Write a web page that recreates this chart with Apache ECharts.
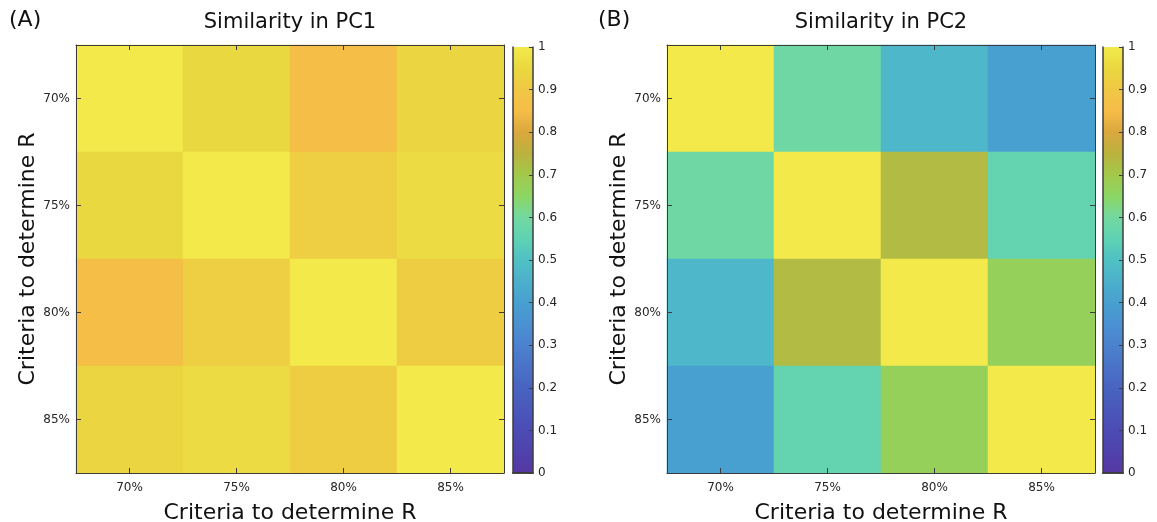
<!DOCTYPE html>
<html>
<head>
<meta charset="utf-8">
<script src="https://cdn.jsdelivr.net/npm/echarts@6/dist/echarts.min.js"></script>
<style>html,body{margin:0;padding:0;background:#fff;}#c{width:1157px;height:522px;}</style>
</head>
<body>
<div id="c"></div>
<script>
// ---- data ----
const categories = ['70%', '75%', '80%', '85%'];
const pc1 = [
  [1.00, 0.95, 0.86, 0.94],
  [0.95, 1.00, 0.92, 0.96],
  [0.86, 0.92, 1.00, 0.915],
  [0.94, 0.96, 0.915, 1.00]
];
const pc2 = [
  [1.00, 0.59, 0.47, 0.40],
  [0.59, 1.00, 0.73, 0.56],
  [0.47, 0.73, 1.00, 0.67],
  [0.40, 0.56, 0.67, 1.00]
];
const panelLabels = ['(A)', '(B)'];
const titles = ['Similarity in PC1', 'Similarity in PC2'];
const axisName = 'Criteria to determine R';
const cbMin = 0, cbMax = 1, cbStep = 0.1;

// lightened parula-like ramp, from 0 to 1 in steps of 0.05
const ramp = [
  'rgb(86,56,162)', 'rgb(80,66,172)', 'rgb(76,76,180)', 'rgb(74,88,186)', 'rgb(72,100,192)',
  'rgb(74,115,200)', 'rgb(76,130,206)', 'rgb(74,145,210)', 'rgb(72,160,208)', 'rgb(76,176,204)',
  'rgb(80,193,196)', 'rgb(95,210,180)', 'rgb(115,216,160)', 'rgb(140,214,100)', 'rgb(162,200,75)',
  'rgb(188,178,62)', 'rgb(218,168,62)', 'rgb(246,188,72)', 'rgb(240,200,68)', 'rgb(234,216,64)',
  'rgb(243,233,75)'
];

function toCells(m) {
  const out = [];
  m.forEach((row, r) => row.forEach((v, c) => out.push([c, r, v])));
  return out;
}

const FONT = 'DejaVu Sans';
const AX = '#3c3c3c';
const plots = [{left: 76}, {left: 667}];
const cbars = [{left: 513}, {left: 1103}];
const TOP = 45, SIZE = 428;

const grid = [], xAxis = [], yAxis = [], visualMap = [], series = [], graphic = [];

plots.forEach((p, i) => {
  grid.push({left: p.left, top: TOP, width: SIZE, height: SIZE, containLabel: false, outerBoundsMode: 'none'});
  const g = grid.length - 1;
  const tick = {show: true, inside: true, length: 5, alignWithLabel: true, lineStyle: {color: AX}};
  xAxis.push({type: 'category', gridIndex: g, data: categories, position: 'bottom', z: 5,
    axisLine: {show: true, lineStyle: {color: AX, width: 1}}, axisTick: tick,
    axisLabel: {fontFamily: FONT, fontSize: 12, color: '#262626', margin: 9},
    name: axisName, nameLocation: 'middle', nameGap: 29,
    nameTextStyle: {fontFamily: FONT, fontSize: 22, color: '#111'}, splitLine: {show: false}});
  xAxis.push({type: 'category', gridIndex: g, data: categories, position: 'top', z: 5,
    axisLine: {show: true, lineStyle: {color: AX, width: 1}}, axisTick: tick,
    axisLabel: {show: false}, splitLine: {show: false}});
  yAxis.push({type: 'category', gridIndex: g, data: categories, inverse: true, position: 'left', z: 5,
    axisLine: {show: true, lineStyle: {color: AX, width: 1}}, axisTick: tick,
    axisLabel: {fontFamily: FONT, fontSize: 12, color: '#262626', margin: 6},
    name: axisName, nameLocation: 'middle', nameGap: 24, nameRotate: 90,
    nameTextStyle: {fontFamily: FONT, fontSize: 22, color: '#111'}, splitLine: {show: false}});
  yAxis.push({type: 'category', gridIndex: g, data: categories, inverse: true, position: 'right', z: 5,
    axisLine: {show: true, lineStyle: {color: AX, width: 1}}, axisTick: tick,
    axisLabel: {show: false}, splitLine: {show: false}});
  series.push({type: 'heatmap', xAxisIndex: xAxis.length - 2, yAxisIndex: yAxis.length - 2,
    data: toCells(i === 0 ? pc1 : pc2), itemStyle: {borderWidth: 0}, emphasis: {disabled: true}, progressive: 0});
  graphic.push({type: 'text', x: p.left + SIZE / 2, y: 12,
    style: {text: titles[i], fontFamily: FONT, fontSize: 21, fill: '#111', textAlign: 'center', textVerticalAlign: 'top'}});
  graphic.push({type: 'text', x: i === 0 ? 9 : 598, y: 9,
    style: {text: panelLabels[i], fontFamily: FONT, fontSize: 22, fill: '#111', textAlign: 'left', textVerticalAlign: 'top'}});
});

cbars.forEach((cb, i) => {
  const cbTop = 47, cbH = 426, cbW = 20;
  visualMap.push({type: 'continuous', min: cbMin, max: cbMax, seriesIndex: i, calculable: false,
    orient: 'vertical', left: cb.left, top: cbTop, itemWidth: cbW, itemHeight: cbH, padding: 0,
    inRange: {color: ramp}, hoverLink: false, z: 4});
  grid.push({left: cb.left, top: cbTop, width: cbW, height: cbH, outerBoundsMode: 'none'});
  const g = grid.length - 1;
  xAxis.push({type: 'category', gridIndex: g, data: [''], position: 'bottom', z: 10,
    axisLine: {show: true, lineStyle: {color: AX, width: 1.5}}, axisTick: {show: false}, axisLabel: {show: false}});
  xAxis.push({type: 'category', gridIndex: g, data: [''], position: 'top', z: 10,
    axisLine: {show: true, lineStyle: {color: AX, width: 1.5}}, axisTick: {show: false}, axisLabel: {show: false}});
  yAxis.push({type: 'value', gridIndex: g, min: cbMin, max: cbMax, interval: cbStep, position: 'right', z: 10,
    axisLine: {show: true, lineStyle: {color: AX, width: 1.5}},
    axisTick: {show: true, inside: true, length: 4, lineStyle: {color: AX}},
    axisLabel: {fontFamily: FONT, fontSize: 12, color: '#262626', margin: 5,
      formatter: v => (Math.round(v * 10) / 10).toString()},
    splitLine: {show: false}});
  yAxis.push({type: 'value', gridIndex: g, min: cbMin, max: cbMax, interval: cbStep, position: 'left', z: 10,
    axisLine: {show: true, lineStyle: {color: AX, width: 1.5}}, axisTick: {show: false},
    axisLabel: {show: false}, splitLine: {show: false}});
});

const chart = echarts.init(document.getElementById('c'), null, {renderer: 'canvas'});
chart.setOption({animation: false, backgroundColor: '#fff', grid, xAxis, yAxis, visualMap, series, graphic});
</script>
</body>
</html>
